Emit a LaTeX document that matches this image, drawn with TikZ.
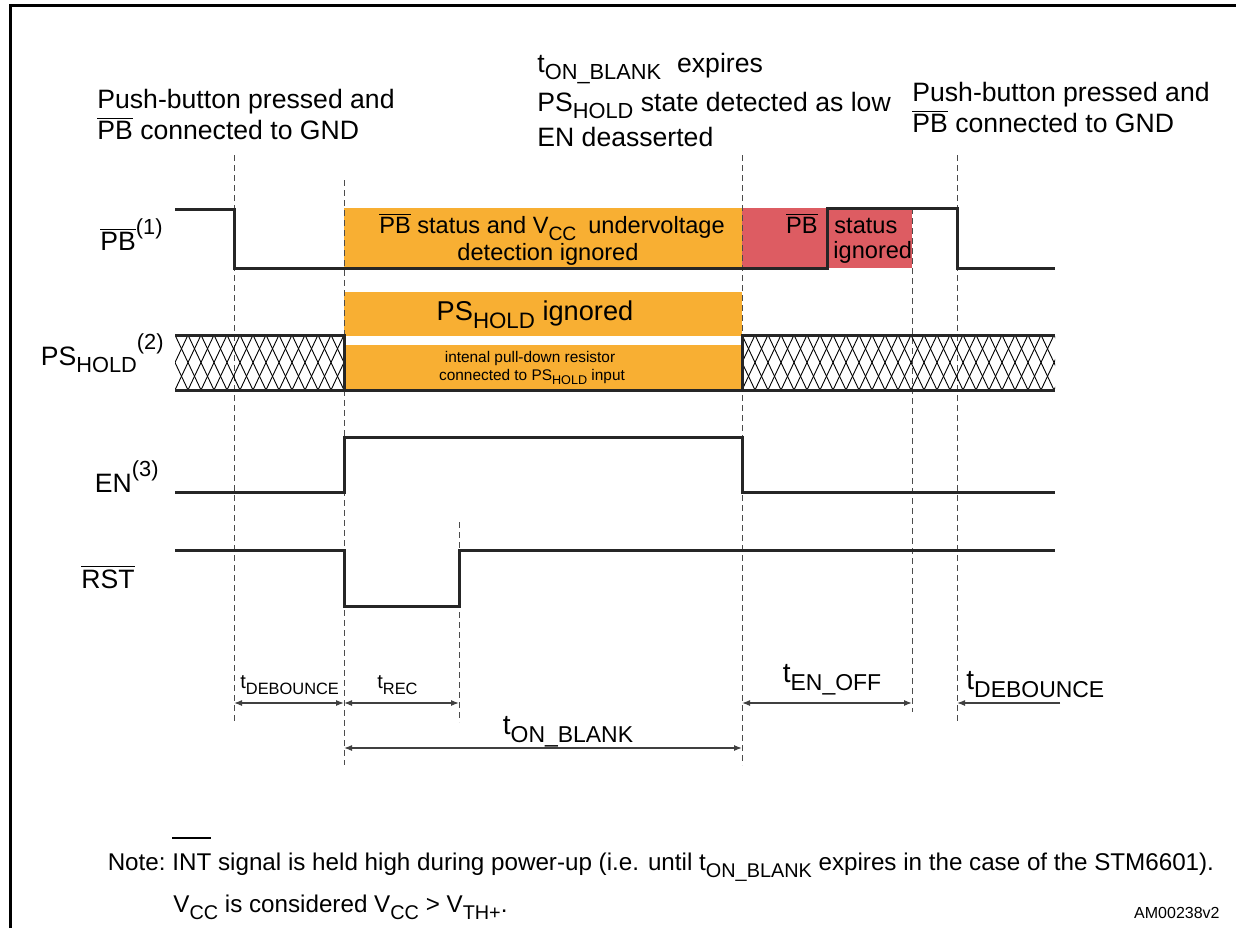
\documentclass[tikz,border=0pt]{standalone}
\usepackage{fontspec}
\setmainfont{Liberation Sans}
\usepackage{graphicx}
\usetikzlibrary{arrows.meta}

\definecolor{blankorange}{RGB}{248,175,51}
\definecolor{ignorered}{RGB}{221,92,98}

\newcommand{\lowsub}[1]{\raisebox{-0.3em}{\scalebox{0.82}{#1}}}
\newcommand{\hisup}[1]{\raisebox{0.6em}{\scalebox{0.82}{#1}}}
\newcommand{\ovl}[1]{$\overline{\mbox{#1}}$}
\newcommand{\farbar}[1]{\setbox0\hbox{#1}\rlap{\raisebox{1.3em}{\rule{\wd0}{0.07em}}}\box0\relax}

\begin{document}
\begin{tikzpicture}[x=0.5pt, y=-0.5pt]
        \tikzstyle{sig}=[line width=1.5pt, black!85]
        \tikzstyle{guide}=[black!70, line width=0.5pt, dash pattern=on 3pt off 2pt]
        \tikzstyle{dim}=[black!75, line width=0.6pt, >={Latex[length=4pt,width=3pt]}, <->]
        \tikzstyle{hatch}=[line width=0.45pt, black]
        \tikzstyle{txt}=[inner sep=0pt, font=\fontsize{13.3}{15.5}\selectfont]
        \tikzstyle{boxtxt}=[inner sep=0pt, font=\fontsize{11.8}{14}\selectfont]
        \tikzstyle{tinytxt}=[inner sep=0pt, font=\fontsize{7.7}{9.5}\selectfont]
        \tikzstyle{smalltxt}=[inner sep=0pt, font=\fontsize{10}{12}\selectfont]
        \tikzstyle{timetxt}=[inner sep=0pt, font=\fontsize{14}{16}\selectfont]
        \tikzstyle{notetxt}=[inner sep=0pt, font=\fontsize{12.1}{14}\selectfont]

        \useasboundingbox (0,0) rectangle (1236,928);

        % frame
        \draw[line width=1.5pt] (10,928) -- (10,5) -- (1236,5);

        % annotations
        \node[txt, anchor=base west] (pressA1) at (97,108) {Push-button pressed and};
        \node[txt, anchor=base west] (pressA2) at (97,139) {\ovl{PB} connected to GND};
        \node[txt, anchor=base west] (blank1) at (537,72) {t\lowsub{ON\_BLANK}\hspace{0.6em}expires};
        \node[txt, anchor=base west] (blank2) at (537,111) {PS\lowsub{HOLD} state detected as low};
        \node[txt, anchor=base west] (blank3) at (537,146) {EN deasserted};
        \node[txt, anchor=base west] (pressB1) at (912,101) {Push-button pressed and};
        \node[txt, anchor=base west] (pressB2) at (912,132) {\ovl{PB} connected to GND};

        % ignored windows
        \fill[blankorange] (344,208) rectangle (742,268);
        \fill[ignorered] (742,208) rectangle (912,268);
        \fill[blankorange] (344,292) rectangle (742,336);
        \fill[blankorange] (344,345) rectangle (742,390);

        \node[boxtxt, anchor=base] (ign1) at (552,233) {\ovl{PB} status and V\lowsub{CC}\hspace{0.5em}undervoltage};
        \node[boxtxt, anchor=base] (ign2) at (548,260) {detection ignored};
        \node[boxtxt, anchor=base east] (red1) at (818,233) {\ovl{PB}};
        \node[boxtxt, anchor=base west] (red2) at (834,233) {status};
        \node[boxtxt, anchor=base west] (red3) at (833,258) {ignored};
        \node[txt, anchor=base, font=\fontsize{13.6}{16}\selectfont] (hold1) at (535,320) {PS\lowsub{HOLD} ignored};
        \node[tinytxt, anchor=base] (pull1) at (530,362) {intenal pull-down resistor};
        \node[tinytxt, anchor=base] (pull2) at (532,380) {connected to PS\lowsub{HOLD} input};

        % signal names
        \node[txt, anchor=base east] (pb) at (163,250) {\ovl{PB}\hisup{(1)}};
        \node[txt, anchor=base east] (pshold) at (164,365) {PS\lowsub{HOLD}\hisup{(2)}};
        \node[txt, anchor=base east] (en) at (159,492) {EN\hisup{(3)}};
        \node[txt, anchor=base east] (rst) at (135,588) {\ovl{RST}};

        % guide lines
        \draw[guide] (234,155) -- (234,722);
        \draw[guide] (344,180) -- (344,765);
        \draw[guide] (459,522) -- (459,722);
        \draw[guide] (742,155) -- (742,765);
        \draw[guide] (912,208) -- (912,712);
        \draw[guide] (957,155) -- (957,722);

        % unknown state of PS_HOLD
        \begin{scope}
            \clip (175,335) rectangle (344,390);
            \foreach \x in {149,162,...,344} {
                \draw[hatch] (\x,335) -- (\x+26,390);
                \draw[hatch] (\x+26,335) -- (\x,390);
            }
        \end{scope}
        \begin{scope}
            \clip (742,335) rectangle (1055,390);
            \foreach \x in {716,729,...,1055} {
                \draw[hatch] (\x,335) -- (\x+26,390);
                \draw[hatch] (\x+26,335) -- (\x,390);
            }
        \end{scope}

        % signals
        \draw[sig] (175,209) -- (234,209) -- (234,268) -- (827,268) -- (827,208) -- (957,208) -- (957,268) -- (1055,268);
        \draw[sig] (175,335) -- (344,335) -- (344,390);
        \draw[sig] (175,390) -- (742,390) -- (742,335) -- (1055,335);
        \draw[sig] (742,390) -- (1055,390);
        \draw[sig] (175,492) -- (344,492) -- (344,437) -- (742,437) -- (742,492) -- (1055,492);
        \draw[sig] (175,550) -- (344,550) -- (344,606) -- (459,606) -- (459,550) -- (1055,550);

        % timings
        \coordinate (a1) at (234,703);
        \coordinate (a2) at (344,703);
        \coordinate (a3) at (459,703);
        \coordinate (a4) at (742,703);
        \coordinate (a5) at (912,703);
        \coordinate (a6) at (957,703);
        \coordinate (a7) at (1060,703);
        \coordinate (b2) at (344,748);
        \coordinate (b4) at (742,748);

        \draw[dim] (a1) -- (a2);
        \draw[dim] (a2) -- (a3);
        \draw[dim] (b2) -- (b4);
        \draw[dim] (a4) -- (a5);
        \draw[dim, ->] (a7) -- (a6);

        \node[smalltxt, anchor=base west] (tdeb1) at (240,688) {t\lowsub{DEBOUNCE}};
        \node[smalltxt, anchor=base west] (trec) at (377,688) {t\lowsub{REC}};
        \node[timetxt, anchor=base] (tblank) at (568,734) {t\lowsub{ON\_BLANK}};
        \node[timetxt, anchor=base] (tenoff) at (832,682) {t\lowsub{EN\_OFF}};
        \node[timetxt, anchor=base west] (tdeb2) at (966,689) {t\lowsub{DEBOUNCE}};

        % notes
        \node[notetxt, anchor=base east] (note) at (166,870) {Note:};
        \node[notetxt, anchor=base west] (note1) at (172,870) {\farbar{INT} signal is held high during power-up (i.e. until t\lowsub{ON\_BLANK} expires in the case of the STM6601).};
        \node[notetxt, anchor=base west] (note2) at (173,912) {V\lowsub{CC} is considered V\lowsub{CC} > V\lowsub{TH+}.};
        \node[inner sep=0pt, anchor=base east, font=\fontsize{8}{10}\selectfont] (code) at (1220,918) {AM00238v2};
    \end{tikzpicture}
\end{document}
